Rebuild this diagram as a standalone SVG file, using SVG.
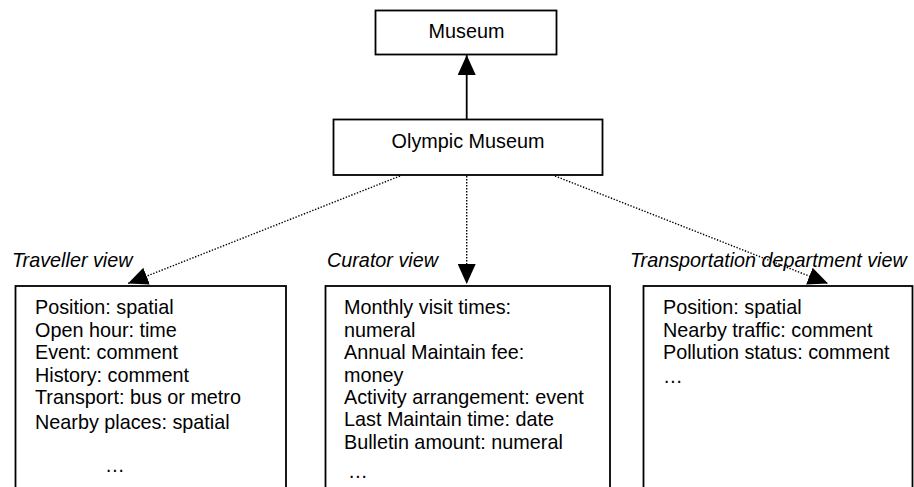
<svg xmlns="http://www.w3.org/2000/svg" width="914" height="487" viewBox="0 0 914 487">
<style>
  .box { fill: #fff; stroke: #000; stroke-width: 1.8; }
  text { font-family: "Liberation Sans", Arial, sans-serif; font-size: 19.8px; fill: #000; }
  .it { font-style: italic; }
  .mid { text-anchor: middle; }
  .solid { stroke: #000; stroke-width: 1.8; fill: none; }
  .dot { stroke: #000; stroke-width: 1.4; stroke-dasharray: 1.4 1.6; fill: none; }
</style>
<defs>
  <marker id="tri" viewBox="0 0 20 18" refX="20" refY="9" markerWidth="20" markerHeight="18" markerUnits="userSpaceOnUse" orient="auto">
    <path d="M0,0 L20,9 L0,18 Z" fill="#000"/>
  </marker>
</defs>
<rect width="914" height="487" fill="#fff"/>

<g id="museum">
  <rect class="box" x="375.5" y="10.5" width="181" height="44"/>
  <text class="mid" x="466.5" y="38">Museum</text>
</g>

<g id="olympic-museum">
  <rect class="box" x="333.5" y="119.5" width="269" height="55.5"/>
  <text class="mid" x="468" y="148">Olympic Museum</text>
</g>

<g id="traveller-view">
  <text class="it" x="12" y="267">Traveller view</text>
  <rect class="box" x="15.5" y="286" width="270.5" height="220"/>
  <text x="35" y="314">Position: spatial</text>
  <text x="35" y="336.5">Open hour: time</text>
  <text x="35" y="359">Event: comment</text>
  <text x="35" y="381.5">History: comment</text>
  <text x="35" y="403.5">Transport: bus or metro</text>
  <text x="35" y="428.5">Nearby places: spatial</text>
  <text x="105" y="472">…</text>
</g>

<g id="curator-view">
  <text class="it" x="327" y="267">Curator view</text>
  <rect class="box" x="325.5" y="286" width="284.5" height="220"/>
  <text x="344" y="314">Monthly visit times:</text>
  <text x="344" y="336.5">numeral</text>
  <text x="344" y="359">Annual Maintain fee:</text>
  <text x="344" y="381.5">money</text>
  <text x="344" y="404">Activity arrangement: event</text>
  <text x="344" y="426.3">Last Maintain time: date</text>
  <text x="344" y="448.5">Bulletin amount: numeral</text>
  <text x="348" y="477.5">…</text>
</g>

<g id="transportation-view">
  <text class="it" x="630" y="267">Transportation department view</text>
  <rect class="box" x="643.5" y="286" width="269" height="220"/>
  <text x="663" y="314">Position: spatial</text>
  <text x="663" y="336.5">Nearby traffic: comment</text>
  <text x="663" y="359">Pollution status: comment</text>
  <text x="663" y="383">…</text>
</g>

<g id="connectors">
  <line class="solid" x1="466.7" y1="119" x2="466.7" y2="55" marker-end="url(#tri)"/>
  <line class="dot" x1="400" y1="176" x2="128" y2="283.5" marker-end="url(#tri)"/>
  <line class="dot" x1="466.7" y1="176" x2="466.7" y2="284" marker-end="url(#tri)"/>
  <line class="dot" x1="555" y1="176" x2="828" y2="283.5" marker-end="url(#tri)"/>
</g>
</svg>
